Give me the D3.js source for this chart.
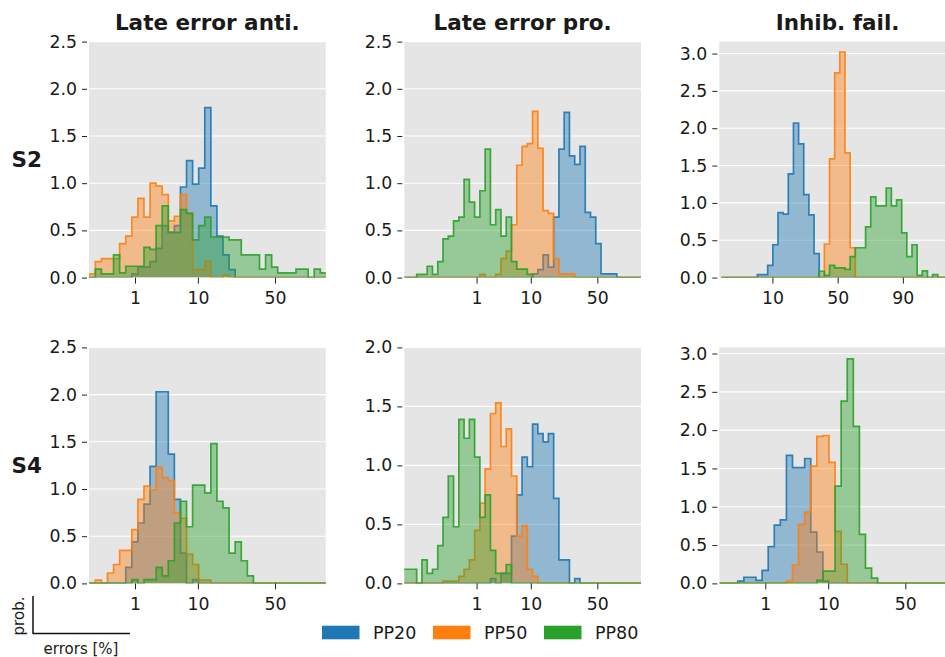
<!DOCTYPE html>
<html>
<head>
<meta charset="utf-8">
<script src="https://cdn.jsdelivr.net/npm/d3@7"></script>
<style>
  body { margin: 0; background: #fff; }
  svg { display: block; }
  text { font-family: "DejaVu Sans", sans-serif; fill: #1a1a1a; }
</style>
</head>
<body>
<svg id="chart" width="945" height="657"></svg>
<script>
// ---- labels -------------------------------------------------------------
const seriesNames = ["PP20", "PP50", "PP80"];
const seriesColors = ["#1f77b4", "#ff7f0e", "#2ca02c"];
const columnTitles = ["Late error anti.", "Late error pro.", "Inhib. fail."];
const rowLabels = ["S2", "S4"];

// ---- histogram bin grids (probit units: start edge, bin width) ------------
const gridAnti = { start: -3.086, width: 0.101 };
const gridPro = { start: -3.785, width: 0.1015 };
const gridInhibS2 = { start: -2.287, width: 0.1013 };
const gridInhibS4 = { start: -3.086, width: 0.101 };

// ---- axis limits and ticks (errors in %) ----------------------------------
const xLimAnti = [0.1, 80], xLimPro = [0.01, 80], xLimInhibS2 = [1, 99], xLimInhibS4 = [0.1, 80];
const xTicksLow = [1, 10, 50];
const xTicksMid = [10, 50, 90];
const yTicks25 = [0, 0.5, 1, 1.5, 2, 2.5];
const yTicks20 = [0, 0.5, 1, 1.5, 2];
const yTicks30 = [0, 0.5, 1, 1.5, 2, 2.5, 3];

// ---- densities per bin ----------------------------------------------------
// S2, late error anti.
const s2AntiPP20 = [0,0,0,0,0,0,0,0.04,0.11,0.11,0.17,0.31,0.55,0.48,0.55,0.96,1.24,0.99,1.16,1.80,0.76,0.44,0.24,0.085,0,0,0,0,0,0,0,0,0,0,0,0,0,0,0];
const s2AntiPP50 = [0.04,0.17,0.20,0.20,0.20,0.36,0.44,0.64,0.84,0.64,1.00,0.97,0.88,0.60,0.65,0.88,0.68,0.085,0.085,0.17,0,0,0.03,0,0,0,0,0,0,0,0,0,0,0,0,0,0,0,0];
const s2AntiPP80 = [0,0.09,0.04,0.04,0.24,0.05,0.12,0.12,0.12,0.32,0.30,0.55,0.76,0.48,0.48,0.72,0.68,0.40,0.55,0.64,0.43,0.43,0.43,0.40,0.40,0.24,0.24,0.24,0.09,0.24,0.11,0.05,0.05,0.05,0.09,0.09,0,0.09,0.05];
// S2, late error pro.
const s2ProPP20 = [0,0,0,0,0,0,0,0,0,0,0,0,0,0,0,0,0,0,0,0,0,0,0,0,0,0.04,0.085,0.24,0.11,0.64,1.36,1.75,1.29,1.20,1.39,0.69,0.64,0.36,0.04,0.04,0.04,0,0,0,0,0];
const s2ProPP50 = [0,0,0,0,0,0,0,0,0,0,0,0,0,0,0,0.035,0,0,0.035,0.20,0.28,0.56,1.19,1.39,1.42,1.76,1.37,0.71,0.68,0.20,0.04,0.04,0.04,0,0,0,0,0,0,0,0,0,0,0,0,0];
const s2ProPP80 = [0,0,0,0.035,0.035,0.12,0.035,0.17,0.41,0.44,0.60,0.64,1.04,0.80,0.64,0.92,1.36,0.56,0.72,0.44,0.64,0.17,0.09,0.09,0.035,0,0,0,0,0,0,0,0,0,0,0,0,0,0,0,0,0,0,0,0,0];
// S2, inhibition failures
const s2InhibPP20 = [0,0,0,0,0,0,0,0.04,0.04,0.165,0.44,0.87,0.85,1.39,2.07,1.79,1.11,0.84,0.32,0,0,0,0,0,0,0,0,0,0,0,0,0,0,0,0,0,0,0,0,0,0,0,0,0,0,0];
const s2InhibPP50 = [0,0,0,0,0,0,0,0,0,0,0,0,0,0,0,0,0,0,0,0,0.45,1.59,2.74,3.02,1.67,0.40,0,0,0,0,0,0,0,0,0,0,0,0,0,0,0,0,0,0,0,0];
const s2InhibPP80 = [0,0,0,0,0,0,0,0,0,0,0,0,0,0,0,0,0,0,0,0.085,0.03,0.165,0.13,0.13,0.11,0.28,0.40,0.40,0.68,1.08,0.96,0.96,1.20,0.96,1.04,0.60,0.28,0.44,0.03,0.09,0,0.04,0,0,0,0];
// S4, late error anti.
const s4AntiPP20 = [0,0,0,0,0,0,0.17,0.44,0.64,0.84,1.24,2.03,2.03,1.37,0.89,0.32,0,0.04,0,0,0,0,0,0,0,0,0,0,0,0,0,0,0,0,0,0,0,0,0];
const s4AntiPP50 = [0,0.035,0,0.11,0.20,0.35,0.35,0.57,0.89,1.03,0.99,1.23,1.12,1.09,0.75,0.69,0.31,0.20,0.035,0.035,0,0,0,0,0,0,0,0,0,0,0,0,0,0,0,0,0,0,0];
const s4AntiPP80 = [0,0,0,0,0,0,0,0.04,0,0.04,0.04,0.17,0.08,0.24,0.64,0.87,0.60,1.04,1.04,0.96,1.48,0.87,0.80,0.32,0.44,0.24,0.08,0,0,0,0,0,0,0,0,0,0,0,0];
// S4, late error pro.
const s4ProPP20 = [0,0,0,0,0,0,0,0,0,0,0,0,0,0,0,0,0,0.04,0,0.085,0.085,0.40,0.75,1.07,0.99,1.35,1.27,1.20,1.27,0.72,0.20,0.20,0,0.04,0,0,0,0,0,0,0,0,0,0,0,0];
const s4ProPP50 = [0,0,0,0,0,0,0,0,0.02,0.02,0.02,0.06,0.12,0.20,0.45,0.68,0.97,1.44,1.53,1.16,1.31,0.91,0.40,0.49,0.12,0.06,0,0,0,0,0,0,0,0,0,0,0,0,0,0,0,0,0,0,0,0];
const s4ProPP80 = [0.12,0.12,0.12,0,0.20,0.085,0.12,0.32,0.56,0.91,0.48,1.39,1.23,1.39,1.07,0.56,0.75,0.28,0.085,0.085,0.16,0,0,0,0,0,0,0,0,0,0,0,0,0,0,0,0,0,0,0,0,0,0,0,0,0];
// S4, inhibition failures
const s4InhibPP20 = [0,0,0,0.03,0.08,0.08,0.04,0.17,0.48,0.76,0.83,1.67,1.51,1.51,1.63,0.67,0.41,0.03,0,0,0,0,0,0,0,0,0,0,0,0,0,0,0,0,0,0,0,0,0];
const s4InhibPP50 = [0,0,0,0,0,0,0,0,0,0,0,0.03,0.24,0.77,0.93,1.53,1.92,1.93,1.58,0.68,0.25,0,0,0,0,0,0,0,0,0,0,0,0,0,0,0,0,0,0];
const s4InhibPP80 = [0,0,0,0,0,0,0,0,0,0,0,0,0,0,0,0,0.04,0.16,0.16,1.27,2.38,2.93,2.05,0.64,0.20,0.07,0,0,0,0,0,0,0,0,0,0,0,0,0];

// ---- inverse standard normal CDF (Acklam) ---------------------------------
function probit(p) {
  const a = [-3.969683028665376e+01, 2.209460984245205e+02, -2.759285104469687e+02, 1.383577518672690e+02, -3.066479806614716e+01, 2.506628277459239e+00];
  const b = [-5.447609879822406e+01, 1.615858368580409e+02, -1.556989798598866e+02, 6.680131188771972e+01, -1.328068155288572e+01];
  const c = [-7.784894002430293e-03, -3.223964580411365e-01, -2.400758277161838e+00, -2.549732539343734e+00, 4.374664141464968e+00, 2.938163982698783e+00];
  const d = [7.784695709041462e-03, 3.224671290700398e-01, 2.445134137142996e+00, 3.754408661907416e+00];
  const pl = 0.02425, ph = 1 - pl;
  let q, r;
  if (p < pl) {
    q = Math.sqrt(-2 * Math.log(p));
    return (((((c[0]*q+c[1])*q+c[2])*q+c[3])*q+c[4])*q+c[5]) / ((((d[0]*q+d[1])*q+d[2])*q+d[3])*q+1);
  }
  if (p <= ph) {
    q = p - 0.5; r = q * q;
    return (((((a[0]*r+a[1])*r+a[2])*r+a[3])*r+a[4])*r+a[5])*q / (((((b[0]*r+b[1])*r+b[2])*r+b[3])*r+b[4])*r+1);
  }
  q = Math.sqrt(-2 * Math.log(1 - p));
  return -(((((c[0]*q+c[1])*q+c[2])*q+c[3])*q+c[4])*q+c[5]) / ((((d[0]*q+d[1])*q+d[2])*q+d[3])*q+1);
}

// ---- panel definitions ----------------------------------------------------
const panels = [
  { row: 0, col: 0, xLim: xLimAnti, xTicks: xTicksLow, yMax: 2.5, yTicks: yTicks25, grid: gridAnti, series: [s2AntiPP20, s2AntiPP50, s2AntiPP80] },
  { row: 0, col: 1, xLim: xLimPro, xTicks: xTicksLow, yMax: 2.5, yTicks: yTicks25, grid: gridPro, series: [s2ProPP20, s2ProPP50, s2ProPP80] },
  { row: 0, col: 2, xLim: xLimInhibS2, xTicks: xTicksMid, yMax: 3.16, yTicks: yTicks30, grid: gridInhibS2, series: [s2InhibPP20, s2InhibPP50, s2InhibPP80] },
  { row: 1, col: 0, xLim: xLimAnti, xTicks: xTicksLow, yMax: 2.5, yTicks: yTicks25, grid: gridAnti, series: [s4AntiPP20, s4AntiPP50, s4AntiPP80] },
  { row: 1, col: 1, xLim: xLimPro, xTicks: xTicksLow, yMax: 2.0, yTicks: yTicks20, grid: gridPro, series: [s4ProPP20, s4ProPP50, s4ProPP80] },
  { row: 1, col: 2, xLim: xLimInhibS4, xTicks: xTicksLow, yMax: 3.08, yTicks: yTicks30, grid: gridInhibS4, series: [s4InhibPP20, s4InhibPP50, s4InhibPP80] }
];

// ---- layout ---------------------------------------------------------------
const colLeft = [89, 404.3, 719.3];
const rowTop = [41.6, 347.4];
const panelW = 236.7, panelH = 236;
const tickFont = "17.3px";

const svg = d3.select("#chart");

panels.forEach((pn, idx) => {
  const g = svg.append("g").attr("transform", `translate(${colLeft[pn.col]},${rowTop[pn.row]})`);
  const x = d3.scaleLinear().domain(pn.xLim.map(v => probit(v / 100))).range([0, panelW]);
  const y = d3.scaleLinear().domain([0, pn.yMax]).range([panelH, 0]);

  g.append("rect").attr("width", panelW).attr("height", panelH).attr("fill", "#e5e5e5");

  g.append("g").selectAll("line").data(pn.yTicks).join("line")
    .attr("x1", 0).attr("x2", panelW)
    .attr("y1", d => y(d)).attr("y2", d => y(d))
    .attr("stroke", "#ffffff").attr("stroke-width", 1.1);

  const clipId = "clip" + idx;
  g.append("clipPath").attr("id", clipId)
    .append("rect").attr("width", panelW).attr("height", panelH + 1).attr("y", -1);

  const plot = g.append("g").attr("clip-path", `url(#${clipId})`);

  const area = d3.area().curve(d3.curveStepAfter)
    .x(d => x(d.e)).y0(y(0)).y1(d => y(d.v));
  const line = d3.line().curve(d3.curveStepAfter)
    .x(d => x(d.e)).y(d => y(d.v));

  pn.series.forEach((vals, si) => {
    const n = vals.length;
    const edge = k => pn.grid.start + k * pn.grid.width;
    const pts = [{ e: edge(0), v: 0 }]
      .concat(vals.map((v, k) => ({ e: edge(k), v })))
      .concat([{ e: edge(n), v: vals[n - 1] }, { e: edge(n), v: 0 }]);
    plot.append("path").attr("d", area(pts))
      .attr("fill", seriesColors[si]).attr("fill-opacity", 0.42).attr("stroke", "none");
    plot.append("path").attr("d", line(pts))
      .attr("fill", "none").attr("stroke", seriesColors[si])
      .attr("stroke-width", 1.7).attr("stroke-opacity", 0.9)
      .attr("stroke-linejoin", "miter");
  });

  // y axis
  const ya = g.append("g").attr("transform", "translate(-2,0)")
    .call(d3.axisLeft(y).tickValues(pn.yTicks).tickFormat(d3.format(".1f")).tickSize(5).tickPadding(5));
  ya.select(".domain").remove();
  ya.selectAll(".tick line").attr("stroke", "#222").attr("stroke-width", 1);
  ya.selectAll(".tick text").attr("font-size", tickFont).attr("font-family", "DejaVu Sans").attr("fill", "#1a1a1a");

  // x axis
  const xa = g.append("g").attr("transform", `translate(0,${panelH})`)
    .call(d3.axisBottom(x).tickValues(pn.xTicks.map(v => probit(v / 100)))
      .tickFormat((d, i) => pn.xTicks[i]).tickSize(6).tickPadding(8));
  xa.select(".domain").remove();
  xa.selectAll(".tick line").attr("stroke", "#222").attr("stroke-width", 1);
  xa.selectAll(".tick text").attr("font-size", tickFont).attr("font-family", "DejaVu Sans").attr("fill", "#1a1a1a");

  if (pn.row === 0) {
    g.append("text").attr("x", panelW / 2).attr("y", -12)
      .attr("text-anchor", "middle").attr("font-size", "21.5px").attr("font-weight", "bold")
      .text(columnTitles[pn.col]);
  }
  if (pn.col === 0) {
    svg.append("text").attr("x", 11.5).attr("y", rowTop[pn.row] + panelH / 2 + 7.5)
      .attr("font-size", "21.5px").attr("font-weight", "bold")
      .text(rowLabels[pn.row]);
  }
});

// ---- axis-meaning key (bottom left) --------------------------------------
svg.append("path").attr("d", "M33,596V633.5H130")
  .attr("fill", "none").attr("stroke", "#111").attr("stroke-width", 1.5);
svg.append("text").attr("transform", "translate(23.5,616) rotate(-90)")
  .attr("text-anchor", "middle").attr("font-size", "15px").text("prob.");
svg.append("text").attr("x", 81).attr("y", 653.5)
  .attr("text-anchor", "middle").attr("font-size", "15px").text("errors [%]");

// ---- legend ---------------------------------------------------------------
const legendX = [322, 433, 544];
const legend = svg.append("g");
seriesNames.forEach((name, i) => {
  legend.append("rect").attr("x", legendX[i]).attr("y", 625.7).attr("width", 37.5).attr("height", 13.6)
    .attr("fill", seriesColors[i]);
  legend.append("text").attr("x", legendX[i] + 51).attr("y", 639)
    .attr("font-size", "17.5px").text(name);
});
</script>
</body>
</html>
